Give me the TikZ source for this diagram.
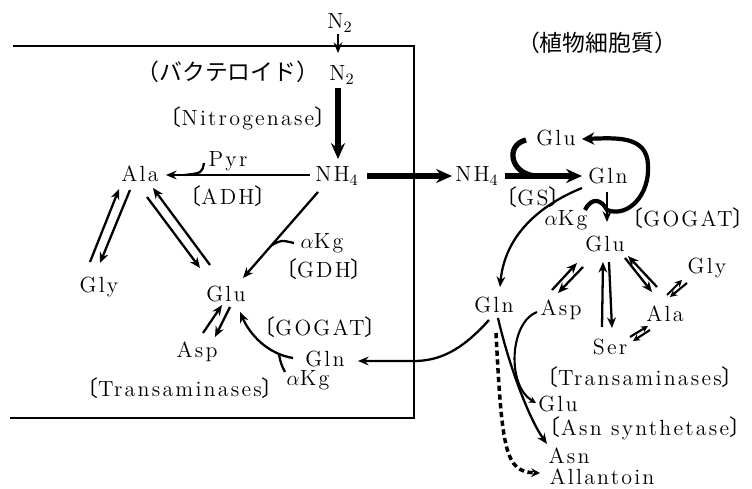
\documentclass[tikz,border=0pt]{standalone}
\usepackage{fontspec}
\setmainfont{Latin Modern Roman}[LetterSpace=10]
\newfontfamily\cjk{Noto Sans CJK JP}
\usetikzlibrary{arrows.meta}
\newcommand{\enz}[1]{{\cjk 〔}#1{\cjk 〕}}

\begin{document}
\begin{tikzpicture}[
  x=0.02cm,y=-0.02cm,
  lbl/.style={inner sep=1pt,font=\fontsize{12.5}{15}\selectfont},
  jlbl/.style={inner sep=1pt,font=\cjk\fontsize{13}{15}\selectfont},
  arr/.style={-{Stealth[length=6pt,width=5pt]},line width=1.3pt},
  arrs/.style={-{Stealth[length=4pt,width=4pt]},line width=1.2pt},
  line/.style={line width=1.3pt},
  fat/.style={-{Stealth[length=9pt,width=8pt]},line width=3pt},
  fatline/.style={line width=3pt},
  bold/.style={-{Stealth[length=7pt,width=7pt]},line width=2.4pt},
  dotarr/.style={-{Stealth[length=5pt,width=5pt]},line width=2pt,dash pattern=on 3pt off 2pt},
  wall/.style={line width=1.6pt}
]
\useasboundingbox (0,0) rectangle (752,489);

% bacteroid membrane
\coordinate (wtl) at (13,46);
\coordinate (wtr) at (414,46);
\coordinate (wbr) at (414,418);
\coordinate (wbl) at (10,418);
\coordinate (wallin) at (414,361);
\draw[wall] (wtl) -- (wtr) -- (wbr) -- (wbl);

% bacteroid side
\node[lbl]  (n2top)  at (340,23)  {N$_2$};
\node[lbl]  (n2in)   at (342,75)  {N$_2$};
\node[jlbl] (bact)   at (228,72)  {（バクテロイド）};
\node[lbl]  (nitro)  at (248,118) {\enz{Nitrogenase}};
\node[lbl]  (nh4a)   at (337,176) {NH$_4$};
\node[lbl]  (alaa)   at (140,174) {Ala};
\node[lbl]  (pyr)    at (228,161) {Pyr};
\node[lbl]  (adh)    at (228,196) {\enz{ADH}};
\node[lbl]  (glya)   at (99,287)  {Gly};
\node[lbl]  (glua)   at (226,294) {Glu};
\node[lbl]  (akga)   at (322,243) {$\alpha$Kg};
\node[lbl]  (gdh)    at (324,269) {\enz{GDH}};
\node[lbl]  (aspa)   at (197,352) {Asp};
\node[lbl]  (transa) at (180,388) {\enz{Transaminases}};
\node[lbl]  (gogata) at (320,327) {\enz{GOGAT}};
\node[lbl]  (glna)   at (325,359) {Gln};
\node[lbl]  (akgb)   at (308,380) {$\alpha$Kg};

% plant cytosol side
\node[jlbl] (cyto)   at (597,43)  {（植物細胞質）};
\node[lbl]  (nh4b)   at (477,176) {NH$_4$};
\node[lbl]  (gs)     at (533,197) {\enz{GS}};
\node[lbl]  (glnb)   at (608,176) {Gln};
\node[lbl]  (glub)   at (556,138) {Glu};
\node[lbl]  (akgc)   at (566,220) {$\alpha$Kg};
\node[lbl]  (gogatb) at (688,218) {\enz{GOGAT}};
\node[lbl]  (gluc)   at (605,244) {Glu};
\node[lbl]  (glnc)   at (494,305) {Gln};
\node[lbl]  (aspb)   at (561,310) {Asp};
\node[lbl]  (serb)   at (610,347) {Ser};
\node[lbl]  (alab)   at (665,314) {Ala};
\node[lbl]  (glyb)   at (707,268) {Gly};
\node[lbl]  (transb) at (640,377) {\enz{Transaminases}};
\node[lbl]  (glud)   at (558,404) {Glu};
\node[lbl]  (asns)   at (645,428) {\enz{Asn synthetase}};
\node[lbl]  (asn)    at (569,456) {Asn};
\node[lbl]  (allan)  at (602,477) {Allantoin};

% N2 fixation
\draw[arr] ([shift={(-2,11)}]n2top.center) -- ([shift={(-4,-22)}]n2in.center);
\draw[fat] ([shift={(-4,13)}]n2in.center) -- ([shift={(1,-17)}]nh4a.center);

% ADH
\draw[arr] ([shift={(-27,-1)}]nh4a.center) -- ([shift={(26,1)}]alaa.center)
  coordinate[pos=0.87] (pyrj);
\draw[line] ([shift={(-24,2)}]pyr.center) .. controls (202,173) .. (pyrj);

% transaminases (bacteroid)
\draw[arr] ([shift={(-9,-25)}]glya.center) -- ([shift={(-21,15)}]alaa.center);
\draw[arr] ([shift={(-10,16)}]alaa.center) -- ([shift={(1,-24)}]glya.center);
\draw[arr] ([shift={(7,23)}]alaa.center) -- ([shift={(-26,-26)}]glua.center);
\draw[arr] ([shift={(-16,-29)}]glua.center) -- ([shift={(13,14)}]alaa.center);
\draw[arr] ([shift={(6,-19)}]aspa.center) -- ([shift={(-4,11)}]glua.center);
\draw[arr] ([shift={(4,13)}]glua.center) -- ([shift={(18,-15)}]aspa.center);

% GDH
\draw[arr] ([shift={(-19,16)}]nh4a.center) -- ([shift={(17,-16)}]glua.center)
  coordinate[pos=0.62] (gdhj);
\draw[line] ([shift={(-28,0)}]akga.center) .. controls (281,240) .. (gdhj);

% GOGAT (bacteroid)
\draw[arr] ([shift={(-32,-1)}]glna.center) .. controls (268,354) and (250,335) ..
  ([shift={(14,18)}]glua.center) coordinate[pos=0.2] (gogj);
\draw[line] ([shift={(-23,-8)}]akgb.center) .. controls (281,364) .. (gogj);

% Gln back into the bacteroid
\draw[arr] ([shift={(-5,15)}]glnc.center) .. controls (462,350) and (440,361) ..
  (wallin) -- ([shift={(33,2)}]glna.center);

% NH4 export and GS
\draw[fat] ([shift={(30,0)}]nh4a.center) -- ([shift={(-25,0)}]nh4b.center);
\draw[fat] ([shift={(28,0)}]nh4b.center) -- ([shift={(-26,0)}]glnb.center)
  coordinate[pos=0.4] (gsj);
\draw[fatline] ([shift={(-30,2)}]glub.center) .. controls (505,145) and (510,174) .. (gsj);

% GOGAT (cytosol)
\draw[arr] ([shift={(-1,16)}]glnb.center) -- ([shift={(2,-22)}]gluc.center)
  coordinate[pos=0.6] (gogk);
\draw[bold] ([shift={(19,-10)}]akgc.center) .. controls (592,196) and (602,200) .. (gogk)
  .. controls (628,218) and (650,195) .. (648,165)
  .. controls (647,135) and (615,138) .. ([shift={(26,1)}]glub.center);

% Gln to lower Gln
\draw[arr] ([shift={(-26,12)}]glnb.center) .. controls (540,205) and (505,235) ..
  ([shift={(6,-18)}]glnc.center);

% transaminases (cytosol)
\draw[arr] ([shift={(-9,-20)}]aspb.center) -- ([shift={(-28,19)}]gluc.center);
\draw[arr] ([shift={(-22,23)}]gluc.center) -- ([shift={(-3,-17)}]aspb.center);
\draw[arr] ([shift={(-8,-20)}]serb.center) -- ([shift={(-2,18)}]gluc.center);
\draw[arr] ([shift={(4,18)}]gluc.center) -- ([shift={(2,-19)}]serb.center);
\draw[arr] ([shift={(20,14)}]gluc.center) -- ([shift={(-13,-22)}]alab.center);
\draw[arr] ([shift={(-8,-27)}]alab.center) -- ([shift={(23,12)}]gluc.center);
\draw[arrs] ([shift={(2,-19)}]alab.center) -- ([shift={(-25,12)}]glyb.center);
\draw[arrs] ([shift={(-20,15)}]glyb.center) -- ([shift={(5,-17)}]alab.center);
\draw[arrs] ([shift={(20,-10)}]serb.center) -- ([shift={(-17,12)}]alab.center);
\draw[arrs] ([shift={(-15,16)}]alab.center) -- ([shift={(23,-6)}]serb.center);

% Asn synthetase
\draw[arrs] ([shift={(-24,2)}]aspb.center) .. controls (510,322) and (506,385) ..
  ([shift={(-22,-1)}]glud.center);
\draw[arr] ([shift={(4,13)}]glnc.center) .. controls (510,370) and (530,420) ..
  ([shift={(-22,-12)}]asn.center);
\draw[dotarr] ([shift={(2,28)}]glnc.center) .. controls (502,450) and (505,472) ..
  ([shift={(-62,-4)}]allan.center);
\end{tikzpicture}
\end{document}
